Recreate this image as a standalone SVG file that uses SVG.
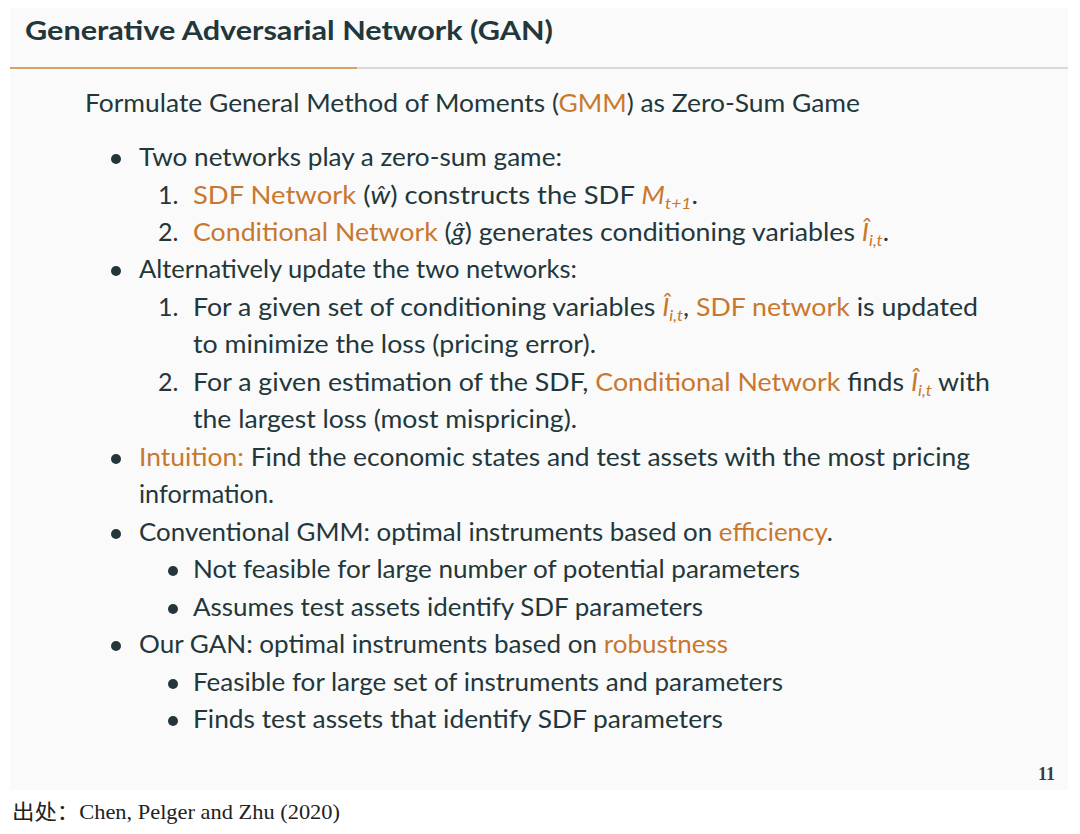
<svg xmlns="http://www.w3.org/2000/svg" width="1080" height="834" viewBox="0 0 1080 834">
<style>
.t{font-family:Lato,"Liberation Sans",sans-serif;font-size:25px;fill:#23373B}
.o{fill:#C8782E}
.m{font-style:italic}
.s{font-size:16px}
.b{fill:#23373B}
</style>
<rect width="1080" height="834" fill="#ffffff"/>
<rect id="slide" x="10" y="8" width="1058" height="782" fill="#FAFAFA"/>
<g id="header">
<text x="25" y="40" font-family="Lato,'Liberation Sans',sans-serif" font-weight="bold" font-size="27" fill="#23373B" textLength="528" lengthAdjust="spacingAndGlyphs">Generative Adversarial Network (GAN)</text>
<rect x="10" y="67" width="1058" height="2" fill="#D9D9D9"/>
<rect x="10" y="67" width="347" height="2" fill="#D9A06A"/>
</g>
<g id="body">
<text class="t" x="85" y="112" textLength="775" lengthAdjust="spacingAndGlyphs">Formulate General Method of Moments (<tspan class="o">GMM</tspan>) as Zero-Sum Game</text>

<circle class="b" cx="116" cy="159" r="5"/>
<text class="t" x="139" y="166" textLength="423" lengthAdjust="spacingAndGlyphs">Two networks play a zero-sum game:</text>
<text class="t" x="158" y="204">1.</text>
<text class="t" x="193" y="204" textLength="505" lengthAdjust="spacingAndGlyphs"><tspan class="o">SDF Network</tspan> (<tspan class="m">ŵ</tspan>) constructs the SDF <tspan class="m o">M</tspan><tspan class="m o s" dy="5">t+1</tspan><tspan dy="-5">.</tspan></text>
<text class="t" x="158" y="241">2.</text>
<text class="t" x="193" y="241" textLength="696" lengthAdjust="spacingAndGlyphs"><tspan class="o">Conditional Network</tspan> (<tspan class="m">ĝ</tspan>) generates conditioning variables <tspan class="m o">Î</tspan><tspan class="m o s" dy="5">i,t</tspan><tspan dy="-5">.</tspan></text>

<circle class="b" cx="116" cy="271" r="5"/>
<text class="t" x="139" y="278" textLength="438" lengthAdjust="spacingAndGlyphs">Alternatively update the two networks:</text>
<text class="t" x="158" y="316">1.</text>
<text class="t" x="193" y="316" textLength="785" lengthAdjust="spacingAndGlyphs">For a given set of conditioning variables <tspan class="m o">Î</tspan><tspan class="m o s" dy="5">i,t</tspan><tspan dy="-5">, </tspan><tspan class="o">SDF network</tspan> is updated</text>
<text class="t" x="193" y="353" textLength="403" lengthAdjust="spacingAndGlyphs">to minimize the loss (pricing error).</text>
<text class="t" x="158" y="391">2.</text>
<text class="t" x="193" y="391" textLength="797" lengthAdjust="spacingAndGlyphs">For a given estimation of the SDF, <tspan class="o">Conditional Network</tspan> finds <tspan class="m o">Î</tspan><tspan class="m o s" dy="5">i,t</tspan><tspan dy="-5"> with</tspan></text>
<text class="t" x="193" y="428" textLength="384" lengthAdjust="spacingAndGlyphs">the largest loss (most mispricing).</text>

<circle class="b" cx="116" cy="459" r="5"/>
<text class="t" x="139" y="466" textLength="831" lengthAdjust="spacingAndGlyphs"><tspan class="o">Intuition:</tspan> Find the economic states and test assets with the most pricing</text>
<text class="t" x="139" y="503" textLength="135" lengthAdjust="spacingAndGlyphs">information.</text>

<circle class="b" cx="116" cy="534" r="5"/>
<text class="t" x="139" y="541" textLength="694" lengthAdjust="spacingAndGlyphs">Conventional GMM: optimal instruments based on <tspan class="o">efficiency</tspan>.</text>
<circle class="b" cx="173" cy="571" r="5"/>
<text class="t" x="193" y="578" textLength="607" lengthAdjust="spacingAndGlyphs">Not feasible for large number of potential parameters</text>
<circle class="b" cx="173" cy="609" r="5"/>
<text class="t" x="193" y="616" textLength="510" lengthAdjust="spacingAndGlyphs">Assumes test assets identify SDF parameters</text>

<circle class="b" cx="116" cy="646" r="5"/>
<text class="t" x="139" y="653" textLength="589" lengthAdjust="spacingAndGlyphs">Our GAN: optimal instruments based on <tspan class="o">robustness</tspan></text>
<circle class="b" cx="173" cy="684" r="5"/>
<text class="t" x="193" y="691" textLength="590" lengthAdjust="spacingAndGlyphs">Feasible for large set of instruments and parameters</text>
<circle class="b" cx="173" cy="721" r="5"/>
<text class="t" x="193" y="728" textLength="530" lengthAdjust="spacingAndGlyphs">Finds test assets that identify SDF parameters</text>
</g>
<text id="page" x="1055" y="780" text-anchor="end" font-family="'Liberation Serif',serif" font-weight="bold" font-size="18" fill="#3A3A3A">11</text>
<text id="source" x="12" y="819" font-family="'Liberation Serif','Noto Sans CJK SC',serif" font-size="21" fill="#222222" textLength="328" lengthAdjust="spacingAndGlyphs">出处：Chen, Pelger and Zhu (2020)</text>
</svg>
